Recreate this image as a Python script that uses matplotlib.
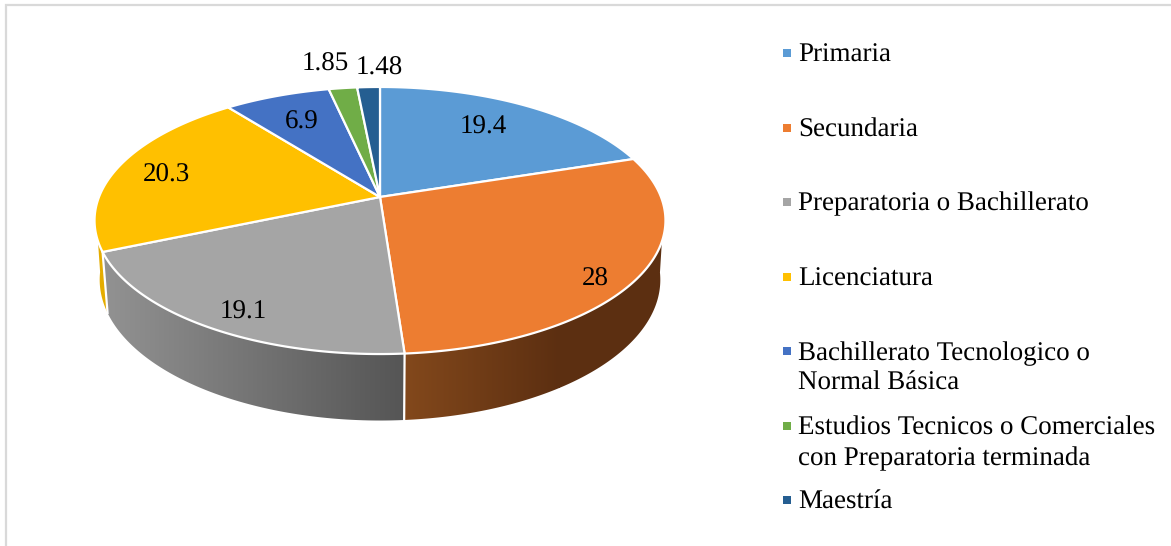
import numpy as np
import matplotlib
matplotlib.use("Agg")
import matplotlib.pyplot as plt
from matplotlib.colors import LinearSegmentedColormap
from matplotlib.patches import Polygon

categories = ["Primaria", "Secundaria", "Preparatoria o Bachillerato", "Licenciatura",
              "Bachillerato Tecnologico o\nNormal Básica",
              "Estudios Tecnicos o Comerciales\ncon Preparatoria terminada", "Maestría"]
values = [19.4, 28, 19.1, 20.3, 6.9, 1.85, 1.48]
value_labels = ["19.4", "28", "19.1", "20.3", "6.9", "1.85", "1.48"]
colors = ["#5B9BD5", "#ED7D31", "#A5A5A5", "#FFC000", "#4472C4", "#70AD47", "#255E91"]

plt.rcParams["font.family"] = ["Liberation Serif"]
plt.rcParams["text.hinting"] = "no_hinting"
plt.rcParams["text.hinting_factor"] = 1
FS = 19.15
W, H = 1171, 546
fig = plt.figure(figsize=(W / 100, H / 100), dpi=100)
ax = fig.add_axes([0, 0, 1, 1])

# frame
ax.plot([5.5, 5.5, W + 2], [H + 2, 4.5, 4.5], color="#D9D9D9", lw=1.6, solid_joinstyle="miter")

# perspective disc geometry
CX, CY = 380.0, 197.0
A, K, B = 129.4, 0.176, 281.0


def top_xy(t):
    X, Y = np.sin(t), np.cos(t)
    d = 1 + K * Y
    return CX + B * X / d, CY - A * Y / d


def bot_xy(t):
    x, y = top_xy(t)
    return CX + 0.982 * (x - CX), CY + 58 + 1.054 * (y - CY)


fracs = np.array(values, float) / np.sum(values)
edges = np.concatenate([[0], np.cumsum(fracs)]) * 2 * np.pi

side_ramps = {
    3: ("#E5AD00", "#E5AD00", 85.0, 115.0),
    2: ("#939393", "#545454", 100.0, 410.0),
    1: ("#84491C", "#5C2F11", 400.0, 560.0),
}

for i, (c0, c1, x0, x1) in side_ramps.items():
    ts = np.linspace(edges[i], edges[i + 1], 400)
    tx, ty = top_xy(ts)
    bx, by = bot_xy(ts)
    keep_t = ty >= 241
    keep_b = by >= 272
    pts = np.vstack([np.column_stack([tx[keep_t], ty[keep_t]]),
                     np.column_stack([bx[keep_b], by[keep_b]])[::-1]])
    patch = Polygon(pts, closed=True, fc="none", ec="none", zorder=2)
    ax.add_patch(patch)
    cmap = LinearSegmentedColormap.from_list("side", [c0, c1])
    im = ax.imshow(np.linspace(0, 1, 256)[None, :], cmap=cmap, aspect="auto",
                   extent=[x0, x1, 450, 200], zorder=2, interpolation="bilinear")
    if i == 1:
        # the ramp stays dark beyond its end
        ax.fill_betweenx([200, 450], x1 - 1, 700, color=c1, zorder=2, lw=0).set_clip_path(patch)
    im.set_clip_path(patch)

# white seams between side walls
for e in [edges[2], edges[3]]:
    x0, y0 = top_xy(e)
    x1, y1 = bot_xy(e)
    ax.plot([x0, x1], [y0, y1], color="white", lw=1.6, zorder=3)

# top faces
for i, c in enumerate(colors):
    ts = np.linspace(edges[i], edges[i + 1], 200)
    xs, ys = top_xy(ts)
    pts = np.vstack([[CX, CY], np.column_stack([xs, ys])])
    ax.add_patch(Polygon(pts, closed=True, fc=c, ec="white", lw=1.6, joinstyle="round", zorder=4))

# data labels
label_xy = [(483, 127), (595, 279), (243, 312), (166, 175), (302, 122), (325, 64), (379, 68)]
for s, (x, y) in zip(value_labels, label_xy):
    ax.text(x, y, s, ha="center", va="center", fontsize=FS, color="black", zorder=6)

# legend
legend_y = [55, 130, 204, 279, 368.5, 443.5, 502]
marker_y = [53, 128, 202, 277, 351, 426, 500]
for name, c, y, my in zip(categories, colors, legend_y, marker_y):
    ax.scatter([787], [my], marker="s", s=34, color=c, linewidths=0, zorder=6)
    ax.text(798.5, y, name, ha="left", va="center", fontsize=FS, color="black",
            linespacing=1.29, zorder=6)

ax.set_xlim(0, W)
ax.set_ylim(H, 0)
ax.axis("off")
fig.savefig("out.png", dpi=100)
